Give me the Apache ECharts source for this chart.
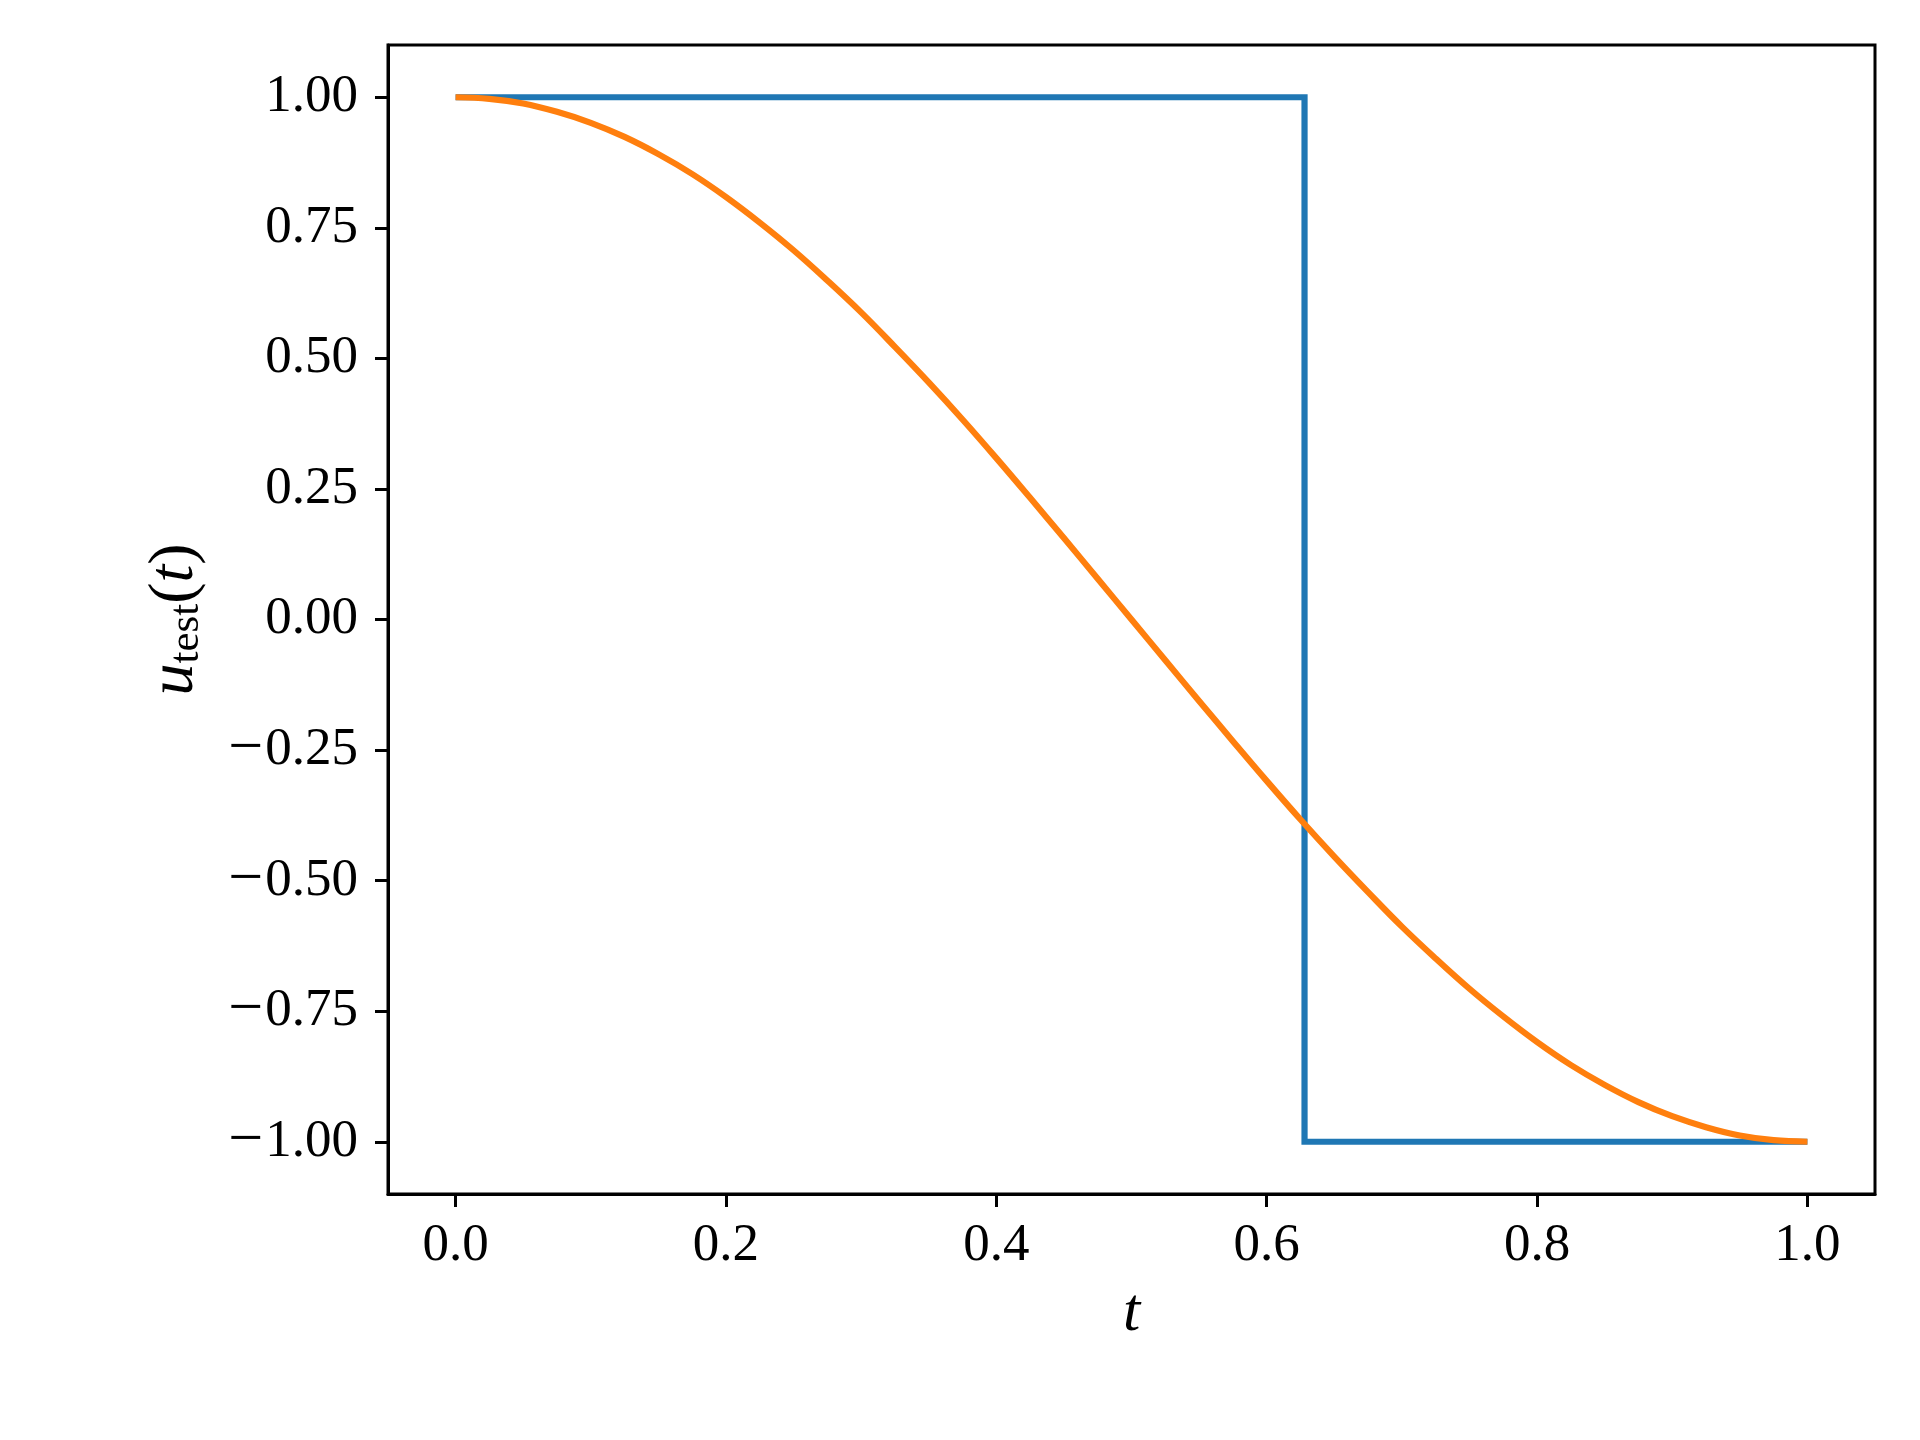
<!DOCTYPE html>
<html>
<head>
<meta charset="utf-8">
<script src="https://cdn.jsdelivr.net/npm/echarts@6/dist/echarts.min.js"></script>
<style>
  html, body { margin: 0; padding: 0; background: #fff; }
  #main { width: 1920px; height: 1440px; }
</style>
</head>
<body>
<div id="main"></div>
<script>
// values
const tValues = [
  0, 0.025, 0.05, 0.075, 0.1, 0.125, 0.15, 0.175, 0.2, 0.225,
  0.25, 0.275, 0.3, 0.325, 0.35, 0.375, 0.4, 0.425, 0.45, 0.475,
  0.5, 0.525, 0.55, 0.575, 0.6, 0.625, 0.65, 0.675, 0.7, 0.725,
  0.75, 0.775, 0.8, 0.825, 0.85, 0.875, 0.9, 0.925, 0.95, 0.975, 1
];
const smoothValues = [
  1.000, 0.997, 0.988, 0.972, 0.951, 0.924, 0.891, 0.853, 0.809, 0.760,
  0.707, 0.649, 0.588, 0.522, 0.454, 0.383, 0.309, 0.233, 0.156, 0.078,
  0.000, -0.078, -0.156, -0.233, -0.309, -0.383, -0.454, -0.522, -0.588, -0.649,
  -0.707, -0.760, -0.809, -0.853, -0.891, -0.924, -0.951, -0.972, -0.988, -0.997, -1.000
];
// step control: switches at t = 0.628
const stepT = [0, 0.628, 0.628, 1];
const stepValues = [1, 1, -1, -1];

const xTicks = [0, 0.2, 0.4, 0.6, 0.8, 1.0];
const yTicks = [-1, -0.75, -0.5, -0.25, 0, 0.25, 0.5, 0.75, 1];

let myChart = echarts.init(document.getElementById("main"), null, { renderer: "canvas" });

const serif = "'Liberation Serif', 'DejaVu Serif', serif";
// minus sign drawn a bit wider, like the TeX one
const fmt = (v, d) => {
  let s = Math.abs(v).toFixed(d);
  return v < -1e-9 ? "{m|\u2212}{n|" + s + "}" : "{n|" + s + "}";
};
const labelRich = {
  m: { fontFamily: serif, fontSize: 62, color: "#000", padding: [0, 2, 0, 6] },
  n: { fontFamily: serif, fontSize: 53, color: "#000" }
};

let option = {
  backgroundColor: "#ffffff",
  animation: false,
  grid: {
    left: 388,
    right: 45,
    top: 45,
    bottom: 246,
    show: true,
    borderColor: "#000",
    borderWidth: 3,
    backgroundColor: "transparent"
  },
  xAxis: {
    type: "value",
    min: -0.05,
    max: 1.05,
    splitLine: { show: false },
    axisLine: { show: true, onZero: false, lineStyle: { color: "#000", width: 3 } },
    axisTick: {
      show: true,
      inside: false,
      length: 13,
      customValues: xTicks,
      lineStyle: { color: "#000", width: 3 }
    },
    axisLabel: {
      customValues: xTicks,
      margin: 26,
      color: "#000",
      fontFamily: serif,
      fontSize: 53,
      formatter: v => fmt(v, 1),
      rich: labelRich
    },
    name: "t",
    nameLocation: "middle",
    nameGap: 89,
    nameTextStyle: {
      color: "#000",
      fontFamily: serif,
      fontStyle: "italic",
      fontSize: 62
    }
  },
  yAxis: {
    type: "value",
    min: -1.1,
    max: 1.1,
    splitLine: { show: false },
    axisLine: { show: true, onZero: false, lineStyle: { color: "#000", width: 3 } },
    axisTick: {
      show: true,
      inside: false,
      length: 13,
      customValues: yTicks,
      lineStyle: { color: "#000", width: 3 }
    },
    axisLabel: {
      customValues: yTicks,
      margin: 30,
      color: "#000",
      fontFamily: serif,
      fontSize: 53,
      formatter: v => fmt(v, 2),
      rich: labelRich
    },
    name: "{i|u}{s|test}{a|(}{i|t}{a|)}",
    nameLocation: "middle",
    nameGap: 180,
    nameTextStyle: {
      color: "#000",
      rich: {
        i: { fontFamily: serif, fontStyle: "italic", fontSize: 64, lineHeight: 66, verticalAlign: "middle", color: "#000" },
        a: { fontFamily: serif, fontSize: 64, lineHeight: 66, verticalAlign: "middle", color: "#000" },
        s: { fontFamily: serif, fontSize: 43, lineHeight: 30, verticalAlign: "bottom", color: "#000" }
      }
    }
  },
  series: [
    {
      name: "step",
      type: "line",
      showSymbol: false,
      data: stepT.map((t, i) => [t, stepValues[i]]),
      lineStyle: { color: "#1f77b4", width: 6.2, cap: "butt", join: "miter" },
      itemStyle: { color: "#1f77b4" },
      z: 2
    },
    {
      name: "cos",
      type: "line",
      showSymbol: false,
      smooth: 0.4,
      data: tValues.map((t, i) => [t, smoothValues[i]]),
      lineStyle: { color: "#ff7f0e", width: 6.2, cap: "butt", join: "round" },
      itemStyle: { color: "#ff7f0e" },
      z: 3
    }
  ]
};

myChart.setOption(option);
</script>
</body>
</html>
